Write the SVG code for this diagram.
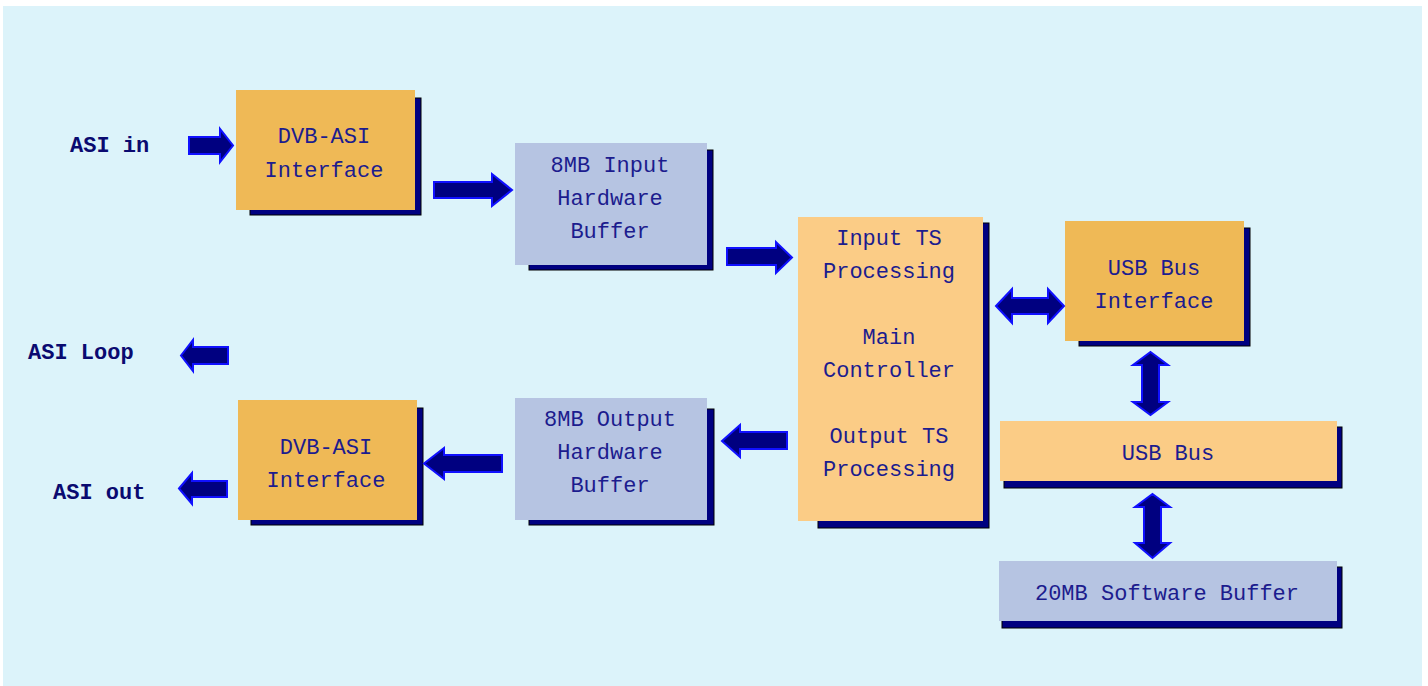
<svg xmlns="http://www.w3.org/2000/svg" width="1428" height="686" viewBox="0 0 1428 686">
<style>
.bg{fill:#dcf3fa}
.sh{fill:#000080;stroke:#000;stroke-width:1}
.o1{fill:#efb956}
.o2{fill:#fbcc86}
.lv{fill:#b6c4e2}
.t{font-family:"Liberation Mono","DejaVu Sans Mono",monospace;font-size:22px;fill:#1c1c8e;text-anchor:middle}
.lb{font-family:"Liberation Mono","DejaVu Sans Mono",monospace;font-size:22px;font-weight:bold;fill:#0a0a70}
.ar{fill:#000080;stroke:#1010ff;stroke-width:2;stroke-linejoin:miter}
</style>
<rect x="0" y="0" width="1428" height="686" fill="#ffffff"/>
<rect class="bg" x="3" y="6" width="1419" height="680"/>

<g id="label-asi-in"><text class="lb" x="70" y="152">ASI in</text></g>
<g id="label-asi-loop"><text class="lb" x="28" y="359">ASI Loop</text></g>
<g id="label-asi-out"><text class="lb" x="53" y="499">ASI out</text></g>

<g id="dvb-asi-in">
<rect class="sh" x="250" y="98" width="171" height="117"/>
<rect class="o1" x="236" y="90" width="179" height="120"/>
<text class="t" x="324" y="143">DVB-ASI</text>
<text class="t" x="324" y="177">Interface</text>
</g>

<g id="input-buffer">
<rect class="sh" x="529" y="150" width="184" height="120"/>
<rect class="lv" x="515" y="143" width="192" height="122"/>
<text class="t" x="610" y="172">8MB Input</text>
<text class="t" x="610" y="205">Hardware</text>
<text class="t" x="610" y="238">Buffer</text>
</g>

<g id="main-controller">
<rect class="sh" x="818" y="223" width="171" height="305"/>
<rect class="o2" x="798" y="217" width="185" height="304"/>
<text class="t" x="889" y="245">Input TS</text>
<text class="t" x="889" y="278">Processing</text>
<text class="t" x="889" y="344">Main</text>
<text class="t" x="889" y="377">Controller</text>
<text class="t" x="889" y="443">Output TS</text>
<text class="t" x="889" y="476">Processing</text>
</g>

<g id="usb-interface">
<rect class="sh" x="1079" y="228" width="171" height="118"/>
<rect class="o1" x="1065" y="221" width="179" height="120"/>
<text class="t" x="1154" y="275">USB Bus</text>
<text class="t" x="1154" y="308">Interface</text>
</g>

<g id="usb-bus">
<rect class="sh" x="1004" y="427" width="338" height="61"/>
<rect class="o2" x="1000" y="421" width="337" height="60"/>
<text class="t" x="1168" y="460">USB Bus</text>
</g>

<g id="software-buffer">
<rect class="sh" x="1002" y="567" width="340" height="61"/>
<rect class="lv" x="999" y="561" width="338" height="60"/>
<text class="t" x="1167" y="600">20MB Software Buffer</text>
</g>

<g id="output-buffer">
<rect class="sh" x="529" y="409" width="185" height="116"/>
<rect class="lv" x="515" y="398" width="192" height="122"/>
<text class="t" x="610" y="426">8MB Output</text>
<text class="t" x="610" y="459">Hardware</text>
<text class="t" x="610" y="492">Buffer</text>
</g>

<g id="dvb-asi-out">
<rect class="sh" x="251" y="408" width="172" height="117"/>
<rect class="o1" x="238" y="400" width="179" height="120"/>
<text class="t" x="326" y="454">DVB-ASI</text>
<text class="t" x="326" y="487">Interface</text>
</g>

<g id="connectors">
<path class="ar" d="M189,137 H220 V129 L233,145.5 L220,162 V154 H189 Z"/>
<path class="ar" d="M434,182 H492 V174 L512,190 L492,206 V198 H434 Z"/>
<path class="ar" d="M727,248 H776 V242 L792,257.5 L776,273 V265 H727 Z"/>
<path class="ar" d="M996,306 L1012,289 V298 H1048 V289 L1064,306 L1048,323 V314 H1012 V323 Z"/>
<path class="ar" d="M1150.5,352 L1168,365 H1159 V402 H1168 L1150.5,415 L1133,402 H1142 V365 H1133 Z"/>
<path class="ar" d="M1152.5,494 L1170,507 H1161 V543 H1170 L1152.5,558 L1135,543 H1144 V507 H1135 Z"/>
<path class="ar" d="M722,441 L740,425 V432 H787 V449 H740 V457 Z"/>
<path class="ar" d="M424,463.5 L444,448 V455 H502 V472 H444 V479 Z"/>
<path class="ar" d="M181,355.5 L193,340 V347 H228 V364 H193 V371 Z"/>
<path class="ar" d="M179,488.5 L192,473 V481 H227 V497 H192 V504 Z"/>
</g>
</svg>
